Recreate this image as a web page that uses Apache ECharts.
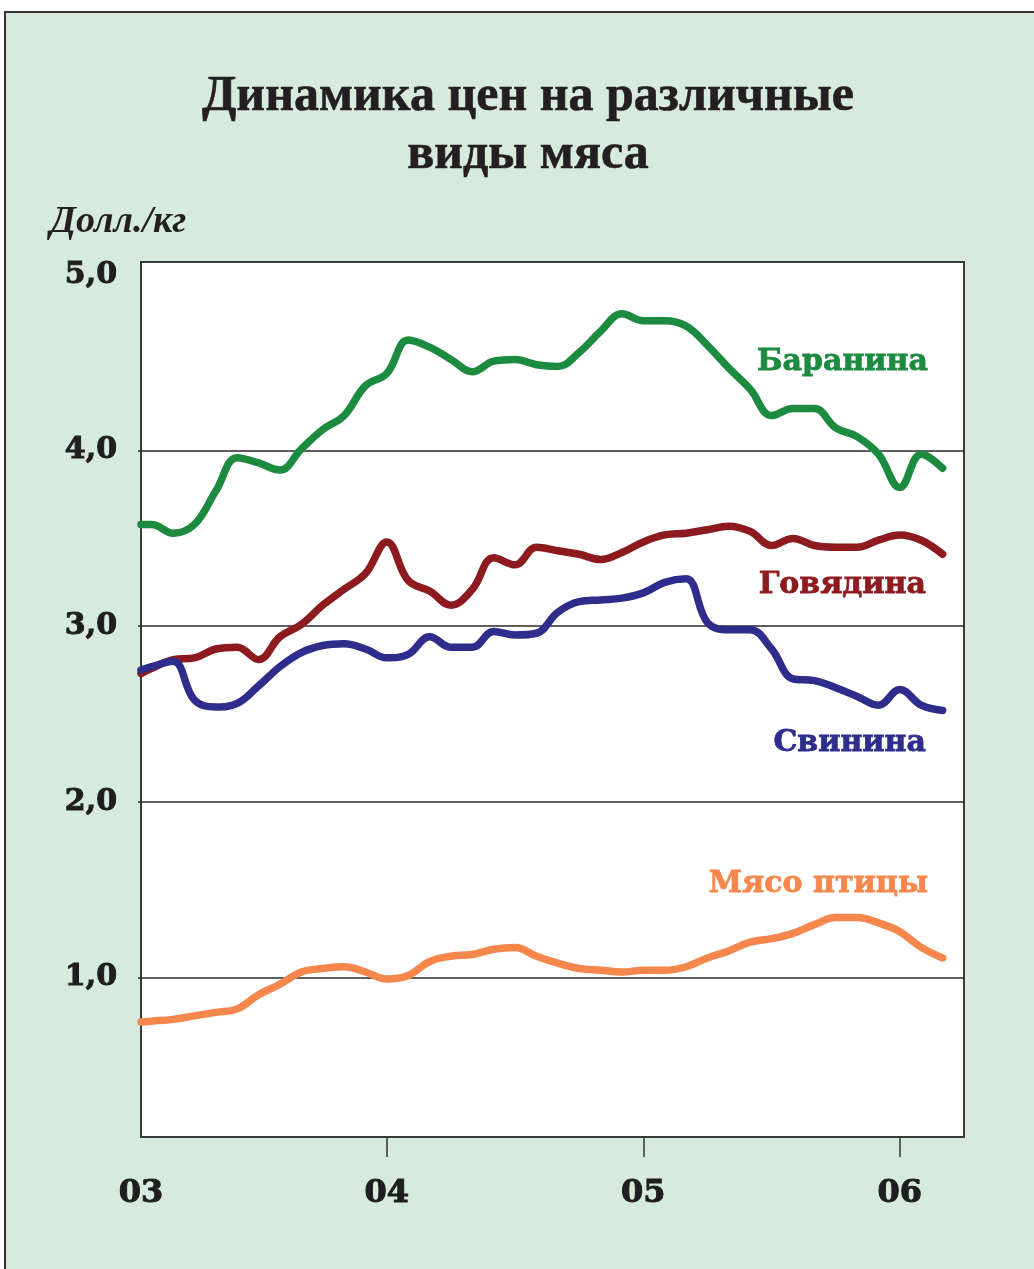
<!DOCTYPE html>
<html>
<head>
<meta charset="utf-8">
<title>Динамика цен на различные виды мяса</title>
<script src="https://cdn.jsdelivr.net/npm/echarts@6/dist/echarts.min.js"></script>
<style>
  * { margin: 0; padding: 0; }
  html, body { background: #fff; }
  #main { width: 1034px; height: 1269px; }
</style>
</head>
<body>
<div id="main"></div>
<script>
// месяцы от начала 2003 г. (12 = 04, 24 = 05, 36 = 06)
var months = [0.5, 1, 2, 3, 4, 5, 6, 7, 8, 9, 10, 11, 12, 13, 14, 15, 16, 17, 18, 19,
  20, 21, 22, 23, 24, 25, 26, 27, 28, 29, 30, 31, 32, 33, 34, 35, 36, 37, 38];

// цены, долл./кг
var lamb = [3.58, 3.58, 3.53, 3.58, 3.77, 3.96, 3.93, 3.89, 4.01, 4.12,
  4.20, 4.37, 4.44, 4.63, 4.59, 4.52, 4.45, 4.51, 4.52, 4.49,
  4.48, 4.56, 4.68, 4.78, 4.74, 4.74, 4.71, 4.60, 4.47, 4.35,
  4.20, 4.24, 4.24, 4.13, 4.08, 3.98, 3.79, 3.98, 3.90];
var beef = [2.73, 2.76, 2.81, 2.82, 2.87, 2.88, 2.81, 2.94, 3.01, 3.12,
  3.21, 3.30, 3.48, 3.26, 3.20, 3.12, 3.21, 3.39, 3.35, 3.45,
  3.43, 3.41, 3.38, 3.42, 3.48, 3.52, 3.53, 3.55, 3.57, 3.54,
  3.46, 3.50, 3.46, 3.45, 3.45, 3.49, 3.52, 3.49, 3.41];
var pork = [2.75, 2.77, 2.80, 2.58, 2.54, 2.56, 2.66, 2.77, 2.85, 2.89,
  2.90, 2.87, 2.82, 2.84, 2.94, 2.88, 2.88, 2.97, 2.95, 2.96,
  3.08, 3.14, 3.15, 3.16, 3.19, 3.25, 3.27, 3.02, 2.98, 2.98,
  2.87, 2.70, 2.69, 2.65, 2.60, 2.55, 2.64, 2.55, 2.52];
var poultry = [0.745, 0.75, 0.76, 0.78, 0.80, 0.82, 0.90, 0.96, 1.03, 1.05,
  1.06, 1.03, 0.99, 1.01, 1.09, 1.12, 1.13, 1.16, 1.17, 1.12,
  1.08, 1.05, 1.04, 1.03, 1.04, 1.04, 1.06, 1.11, 1.15, 1.20,
  1.22, 1.25, 1.30, 1.34, 1.34, 1.31, 1.26, 1.17, 1.11];

var seriesNames = ['Баранина', 'Говядина', 'Свинина', 'Мясо птицы'];
var seriesColors = ['#1c8a3f', '#8c1a1f', '#2e2d8c', '#f5874c'];

// подписи осей
var yearPos = [0.5, 12, 24, 36];
var yearLabels = ['03', '04', '05', '06'];
var yearTicks = [12, 24, 36];
var priceGrid = [1, 2, 3, 4];
var priceLabels = [1, 2, 3, 4, 5];

function pairs(vals) {
  return months.map(function (m, i) { return [m, vals[i]]; });
}

var chart = echarts.init(document.getElementById('main'));

var lineSeries = [lamb, beef, pork, poultry].map(function (vals, i) {
  var s = {
    name: seriesNames[i],
    type: 'line',
    data: pairs(vals),
    smooth: 0.4,
    showSymbol: false,
    silent: true,
    lineStyle: { color: seriesColors[i], width: 7.5, cap: 'round', join: 'round' },
    z: 3
  };
  if (i === 0) {
    // горизонтальные линии сетки
    s.markLine = {
      silent: true,
      symbol: 'none',
      z: 1,
      label: { show: false },
      lineStyle: { color: '#2a2a2a', width: 1.5, type: 'solid' },
      data: priceGrid.map(function (v) { return { yAxis: v }; })
    };
  }
  return s;
});

// подпись серии справа (жирный шрифт с обводкой того же цвета)
function seriesLabel(i, x, y) {
  return {
    type: 'text', x: x, y: y, silent: true,
    style: {
      text: seriesNames[i],
      font: 'bold 30px "DejaVu Serif"',
      align: 'right', verticalAlign: 'middle',
      fill: seriesColors[i],
      stroke: seriesColors[i],
      lineWidth: 0.8
    }
  };
}

chart.setOption({
  animation: false,
  backgroundColor: '#fff',
  grid: {
    left: 141, right: 70, top: 262, bottom: 132,
    show: true,
    backgroundColor: '#fff',
    borderColor: '#3a3a3a',
    borderWidth: 2,
    outerBoundsMode: 'none'
  },
  xAxis: {
    type: 'value',
    min: 0.5,
    max: 39,
    axisLine: { show: false },
    splitLine: { show: false },
    axisTick: {
      show: true,
      customValues: yearTicks,
      length: 20,
      lineStyle: { color: '#333', width: 1.5 }
    },
    axisLabel: {
      customValues: yearPos,
      margin: 41,
      color: '#1e1e1e',
      fontFamily: 'DejaVu Serif',
      fontWeight: 'bold',
      fontSize: 32,
      textBorderColor: '#1e1e1e',
      textBorderWidth: 1,
      formatter: function (v) {
        var i = yearPos.indexOf(v);
        return i >= 0 ? yearLabels[i] : '';
      }
    }
  },
  yAxis: {
    type: 'value',
    min: 0.09,
    max: 5.075,
    axisLine: { show: false },
    splitLine: { show: false },
    axisTick: {
      show: true,
      customValues: priceGrid,
      length: 3,
      lineStyle: { color: '#2a2a2a', width: 1.5 }
    },
    axisLabel: {
      customValues: priceLabels,
      margin: 24,
      color: '#1e1e1e',
      fontFamily: 'DejaVu Serif',
      fontWeight: 'bold',
      fontSize: 30,
      textBorderColor: '#1e1e1e',
      textBorderWidth: 1,
      formatter: function (v) { return v.toFixed(1).replace('.', ','); }
    }
  },
  graphic: [
    {
      type: 'rect', z: -10, silent: true,
      shape: { x: 5, y: 12, width: 1045, height: 1275 },
      style: { fill: '#d6eadd', stroke: '#333', lineWidth: 2 }
    },
    {
      type: 'text', x: 528, y: 126, silent: true,
      style: {
        text: 'Динамика цен на различные\nвиды мяса',
        font: 'bold 50px "Liberation Serif"',
        lineHeight: 58,
        align: 'center', verticalAlign: 'middle',
        fill: '#231f20',
        stroke: '#231f20',
        lineWidth: 0.6
      }
    },
    {
      type: 'text', x: 50, y: 222, silent: true,
      style: {
        text: 'Долл./кг',
        font: 'italic bold 38px "Liberation Serif"',
        align: 'left', verticalAlign: 'middle',
        fill: '#231f20'
      }
    },
    seriesLabel(0, 928, 362),
    seriesLabel(1, 926, 585),
    seriesLabel(2, 926, 743),
    seriesLabel(3, 928, 884)
  ],
  series: lineSeries
});
</script>
</body>
</html>
